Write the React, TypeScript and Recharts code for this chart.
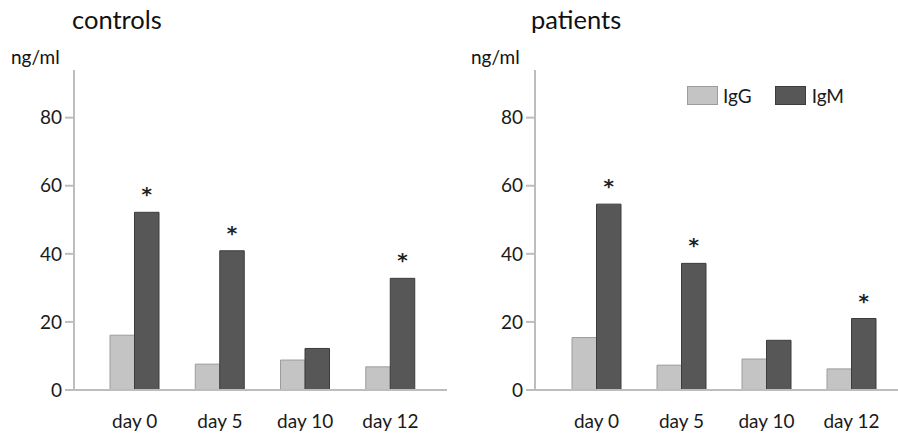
import React from "react";
import { BarChart, Bar, XAxis, YAxis, LabelList } from "recharts";

const days = ["day 0", "day 5", "day 10", "day 12"];
const controlsIgG = [16.1, 7.6, 8.8, 6.8];
const controlsIgM = [52.2, 40.9, 12.2, 32.8];
const controlsSig = [true, true, false, true];
const patientsIgG = [15.4, 7.3, 9.1, 6.2];
const patientsIgM = [54.6, 37.2, 14.6, 21.0];
const patientsSig = [true, true, false, true];
const yTicks = [0, 20, 40, 60, 80];

const FONT = "Lato, 'Open Sans', sans-serif";
const IGG_FILL = "#c4c4c4";
const IGG_STROKE = "#9c9c9c";
const IGM_FILL = "#575757";
const IGM_STROKE = "#3c3c3c";
const AXIS = "#bdbdbd";

function build(igg: number[], igm: number[], sig: boolean[]) {
  return days.map((d, i) => ({ day: d, IgG: igg[i], IgM: igm[i], sig: sig[i] }));
}

function starLabel(sig: boolean[]) {
  return (props: any) => {
    const { x, y, width, index } = props;
    if (!sig[index]) return null;
    return (
      <text
        x={Number(x) + Number(width) / 2}
        y={Number(y) - 11}
        textAnchor="middle"
        fontSize={20}
        fontWeight="bold"
        fontFamily="DejaVu Sans"
        fill="#222"
      >
        *
      </text>
    );
  };
}

function Panel(props: {
  data: any[];
  sig: boolean[];
  yWidth: number;
  padL: number;
  padR: number;
  marginRight: number;
}) {
  const { data, sig, yWidth, padL, padR, marginRight } = props;
  return (
    <BarChart
      width={449}
      height={434}
      data={data}
      margin={{ top: 70, right: marginRight, bottom: 0, left: 0 }}
      barGap={0}
    >
      <XAxis
        dataKey="day"
        height={44}
        tickSize={0}
        tickMargin={25}
        axisLine={{ stroke: AXIS, strokeWidth: 2 }}
        tick={{ fontSize: 19, fontFamily: FONT, fill: "#1a1a1a" }}
        padding={{ left: padL, right: padR }}
      />
      <YAxis
        width={yWidth}
        domain={[0, 94]}
        ticks={yTicks}
        tickSize={9}
        tickMargin={3}
        axisLine={{ stroke: AXIS, strokeWidth: 2 }}
        tickLine={{ stroke: AXIS, strokeWidth: 2 }}
        tick={{ fontSize: 19, fontFamily: FONT, fill: "#1a1a1a" }}
        interval={0}
      />
      <Bar dataKey="IgG" fill={IGG_FILL} stroke={IGG_STROKE} strokeWidth={1} barSize={24.5} isAnimationActive={false} />
      <Bar dataKey="IgM" fill={IGM_FILL} stroke={IGM_STROKE} strokeWidth={1} barSize={24.5} isAnimationActive={false}>
        <LabelList dataKey="IgM" content={starLabel(sig)} />
      </Bar>
    </BarChart>
  );
}

const textStyle: React.CSSProperties = {
  position: "absolute",
  fontFamily: FONT,
  color: "#111",
  whiteSpace: "nowrap",
  lineHeight: 1,
};

export default function App() {
  return (
    <div style={{ position: "absolute", left: 0, top: 0, width: 898, height: 434, background: "#fff" }}>
      <div style={{ position: "absolute", left: 0, top: 0 }}>
        <Panel data={build(controlsIgG, controlsIgM, controlsSig)} sig={controlsSig} yWidth={74} padL={18} padR={14} marginRight={2} />
      </div>
      <div style={{ position: "absolute", left: 449, top: 0 }}>
        <Panel data={build(patientsIgG, patientsIgM, patientsSig)} sig={patientsSig} yWidth={86} padL={19} padR={4} marginRight={0} />
      </div>
      <div style={{ ...textStyle, left: 72, top: 7, fontSize: 25.5 }}>controls</div>
      <div style={{ ...textStyle, left: 531, top: 7, fontSize: 25.5 }}>patients</div>
      <div style={{ ...textStyle, left: 11, top: 47, fontSize: 19 }}>ng/ml</div>
      <div style={{ ...textStyle, left: 471, top: 47, fontSize: 19 }}>ng/ml</div>
      <div style={{ position: "absolute", left: 687, top: 86, display: "flex", alignItems: "center", fontFamily: FONT, fontSize: 19, color: "#1a1a1a", lineHeight: 1 }}>
        <span style={{ width: 29, height: 17, background: IGG_FILL, border: `1px solid ${IGG_STROKE}`, display: "inline-block" }} />
        <span style={{ marginLeft: 5, marginRight: 23 }}>IgG</span>
        <span style={{ width: 29, height: 17, background: IGM_FILL, border: `1px solid ${IGM_STROKE}`, display: "inline-block" }} />
        <span style={{ marginLeft: 6 }}>IgM</span>
      </div>
    </div>
  );
}
